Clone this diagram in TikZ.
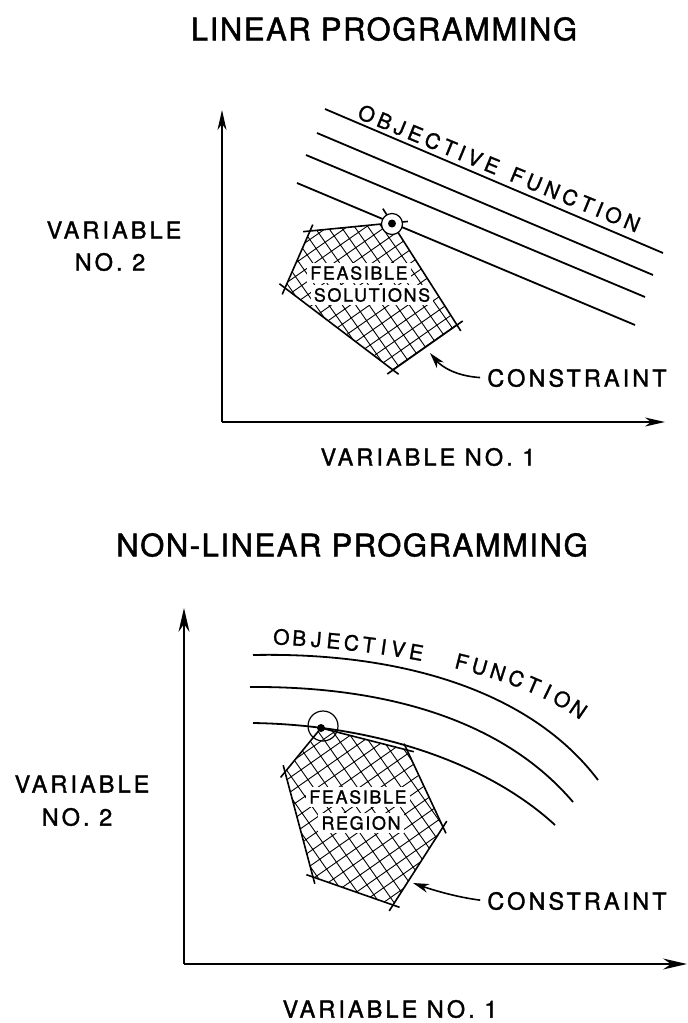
\documentclass[tikz,border=0pt]{standalone}
\usepackage{fontspec}
\setmainfont{TeX Gyre Heros}[FakeBold=1.2]
\newfontfamily\ttlfont[LetterSpace=5, FakeBold=1.5]{TeX Gyre Heros}
\newfontfamily\labfont[LetterSpace=13, FakeBold=1.5]{TeX Gyre Heros}
\newfontfamily\feasfont[LetterSpace=9, FakeBold=1.2]{TeX Gyre Heros}
\usetikzlibrary{arrows.meta}

\tikzset{
  ttl/.style={inner sep=0pt, font=\ttlfont\fontsize{31}{36}\selectfont},
  lab/.style={inner sep=0pt, font=\labfont\fontsize{23.5}{28}\selectfont},
  objc/.style={sloped, anchor=base, inner sep=0pt, font=\fontsize{21}{25}\selectfont},
  feas/.style={fill=white, inner xsep=3pt, inner ysep=3pt, font=\feasfont\fontsize{18}{21}\selectfont},
  axis/.style={line width=1.6pt},
  axtipA/.style={-{Stealth[length=20pt, width=9pt, inset=6pt]}},
  axtipB/.style={-{Stealth[length=24pt, width=11pt, inset=8pt]}},
  objline/.style={line width=1.8pt},
  edge/.style={line width=1.6pt, shorten <=-7pt, shorten >=-7pt},
  hatch/.style={line width=0.9pt},
  carrow/.style={line width=1.6pt, shorten <=7pt, -{Stealth[length=16pt, width=9pt, inset=5pt]}},
  optring/.style={line width=1.2pt},
}

\begin{document}
\begin{tikzpicture}[x=1pt, y=-1pt]
\path[use as bounding box, fill=white] (0,0) rectangle (688,1023);

% ===================== linear programming =====================
\node[ttl] (ttlA) at (384,29) {LINEAR PROGRAMMING};

\coordinate (oA) at (222,422);
\coordinate (yA) at (222,110);
\coordinate (xA) at (665,422);
\draw[axis, axtipA] (oA) -- (yA);
\draw[axis, axtipA] (oA) -- (xA);

% objective function levels
\draw[objline] (325,109) -- (663,253);
\draw[objline] (317,133) -- (653,275);
\draw[objline] (306,155) -- (645,297);
\draw[objline] (297,183) -- (635,325);

% lettering along the top level line
\path (356.5,117.9) -- (632.2,231.1)
  node[objc, pos=0.027] {O}
  node[objc, pos=0.092] {B}
  node[objc, pos=0.147] {J}
  node[objc, pos=0.203] {E}
  node[objc, pos=0.266] {C}
  node[objc, pos=0.327] {T}
  node[objc, pos=0.372] {I}
  node[objc, pos=0.419] {V}
  node[objc, pos=0.481] {E}
  node[objc, pos=0.573] {F}
  node[objc, pos=0.634] {U}
  node[objc, pos=0.699] {N}
  node[objc, pos=0.764] {C}
  node[objc, pos=0.826] {T}
  node[objc, pos=0.871] {I}
  node[objc, pos=0.922] {O}
  node[objc, pos=0.989] {N};

% feasible polygon
\coordinate (p1) at (310,231);
\coordinate (p2) at (392,223);
\coordinate (p3) at (457,325);
\coordinate (p4) at (393,370);
\coordinate (p5) at (285,288);
\begin{scope}
  \clip (p1) -- (p2) -- (p3) -- (p4) -- (p5) -- cycle;
  \draw[hatch, shift={(372,290)}, rotate=35] (-120pt,-120pt) grid[step=11pt] (120pt,120pt);
\end{scope}
\node[feas] (fsA) at (359,273) {FEASIBLE};
\node[feas] (fsB) at (372,295) {SOLUTIONS};
\draw[edge, shorten >=-16pt] (p1) -- (p2);
\draw[edge, shorten <=-17pt] (p2) -- (p3);
\draw[edge] (p3) -- (p4);
\draw[edge] (p4) -- (p5);
\draw[edge] (p5) -- (p1);

% optimum
\draw[optring, fill=white] (392,224) circle (10.5pt);
\fill (p2) ++(0,0.5) circle (4pt);

\node[lab] (cnA) at (577,378) {CONSTRAINT};
\coordinate (tipA) at (430,353);
\draw[carrow] (cnA.west) .. controls (455,376) and (441,366) .. (tipA);

\node[lab] (vxA) at (428,457) {VARIABLE NO. 1};
\node[lab] (vyA1) at (114,230) {VARIABLE};
\node[lab] (vyA2) at (110,262) {NO. 2};

% ===================== non-linear programming =====================
\node[ttl] (ttlB) at (352,545) {NON-LINEAR PROGRAMMING};

\coordinate (oB) at (184,964);
\coordinate (yB) at (184,608);
\coordinate (xB) at (687,964);
\draw[axis, axtipB] (oB) -- (yB);
\draw[axis, axtipB] (oB) -- (xB);

% objective function levels
\draw[objline] (253,655) .. controls (400,652) and (530,690) .. (598,780);
\draw[objline] (250,687) .. controls (390,686) and (505,722) .. (573,802);
\draw[objline] (253,723) .. controls (380,725) and (490,765) .. (555,825);

% lettering along the top level curve
\path (268,644) .. controls (400,650) and (530,675) .. (590,728)
  node[objc, pos=0.033] {O}
  node[objc, pos=0.078] {B}
  node[objc, pos=0.121] {J}
  node[objc, pos=0.165] {E}
  node[objc, pos=0.211] {C}
  node[objc, pos=0.256] {T}
  node[objc, pos=0.295] {I}
  node[objc, pos=0.334] {V}
  node[objc, pos=0.383] {E}
  node[objc, pos=0.512] {F}
  node[objc, pos=0.565] {U}
  node[objc, pos=0.622] {N}
  node[objc, pos=0.682] {C}
  node[objc, pos=0.741] {T}
  node[objc, pos=0.792] {I}
  node[objc, pos=0.850] {O}
  node[objc, pos=0.919] {N};

% feasible polygon
\coordinate (q1) at (321,728);
\coordinate (q2) at (407,750);
\coordinate (q3) at (443,827);
\coordinate (q4) at (393,905);
\coordinate (q5) at (313,877);
\coordinate (q6) at (285,772);
\begin{scope}
  \clip (q1) -- (q2) -- (q3) -- (q4) -- (q5) -- (q6) -- cycle;
  \draw[hatch, shift={(362,815)}, rotate=35] (-130pt,-130pt) grid[step=12pt] (130pt,130pt);
\end{scope}
\node[feas] (frA) at (358,797) {FEASIBLE};
\node[feas] (frB) at (361,823) {REGION};
\draw[edge, shorten <=0pt] (q1) -- (q2);
\draw[edge] (q2) -- (q3);
\draw[edge] (q3) -- (q4);
\draw[edge] (q4) -- (q5);
\draw[edge] (q5) -- (q6);
\draw[edge, shorten >=0pt] (q6) -- (q1);

% optimum
\draw[optring] (323,726) circle (15pt);
\fill (q1) circle (4pt);

\node[lab] (cnB) at (577,901) {CONSTRAINT};
\coordinate (tipB) at (413,883);
\draw[carrow] (cnB.west) .. controls (455,897) and (430,889) .. (tipB);

\node[lab] (vxB) at (390,1009) {VARIABLE NO. 1};
\node[lab] (vyB1) at (82,784) {VARIABLE};
\node[lab] (vyB2) at (77,817) {NO. 2};
\end{tikzpicture}
\end{document}
